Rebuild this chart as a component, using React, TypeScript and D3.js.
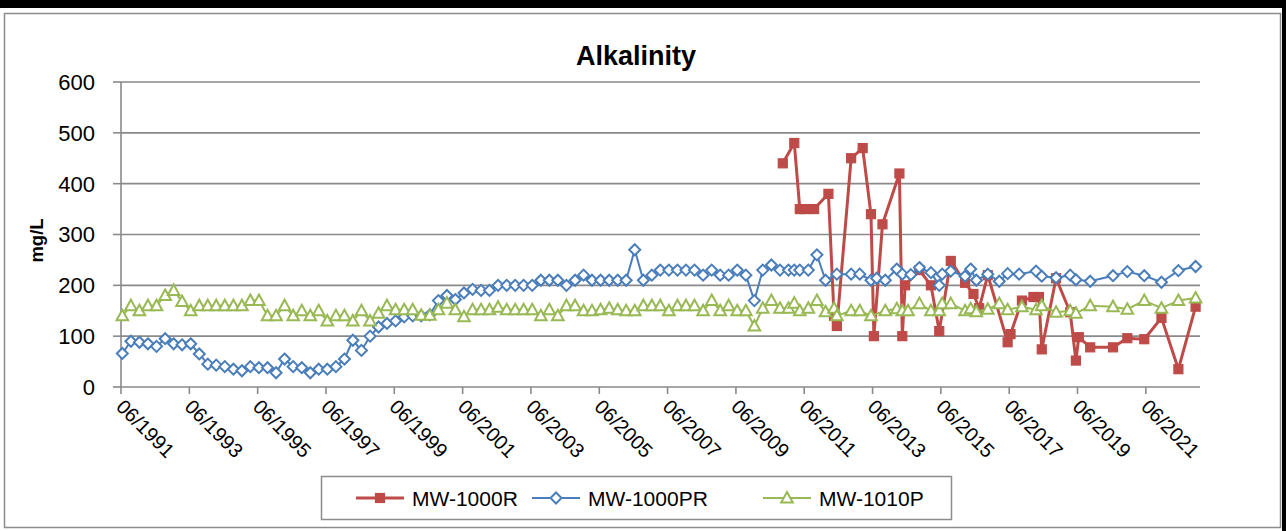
import React, { useLayoutEffect } from "react";
import * as d3 from "d3";

// Quarterly sampling dates shared by MW-1000PR and MW-1010P (1991–2010)
const quarterDates = [
  "1991-06", "1991-09", "1991-12",
  "1992-03", "1992-06", "1992-09", "1992-12",
  "1993-03", "1993-06", "1993-09", "1993-12",
  "1994-03", "1994-06", "1994-09", "1994-12",
  "1995-03", "1995-06", "1995-09", "1995-12",
  "1996-03", "1996-06", "1996-09", "1996-12",
  "1997-03", "1997-06", "1997-09", "1997-12",
  "1998-03", "1998-06", "1998-09", "1998-12",
  "1999-03", "1999-06", "1999-09", "1999-12",
  "2000-03", "2000-06", "2000-09", "2000-12",
  "2001-03", "2001-06", "2001-09", "2001-12",
  "2002-03", "2002-06", "2002-09", "2002-12",
  "2003-03", "2003-06", "2003-09", "2003-12",
  "2004-03", "2004-06", "2004-09", "2004-12",
  "2005-03", "2005-06", "2005-09", "2005-12",
  "2006-03", "2006-06", "2006-09", "2006-12",
  "2007-03", "2007-06", "2007-09", "2007-12",
  "2008-03", "2008-06", "2008-09", "2008-12",
  "2009-03", "2009-06", "2009-09", "2009-12",
  "2010-03", "2010-06", "2010-09", "2010-12",
];

const mw1000prQuarterly = [
  66, 90, 88, 85, 80, 95, 85, 83, 85, 65,
  45, 43, 40, 35, 32, 40, 38, 38, 28, 55,
  40, 38, 28, 35, 35, 40, 55, 92, 72, 100,
  118, 125, 130, 138, 140, 140, 142, 170, 180, 172,
  185, 192, 190, 190, 200, 200, 200, 200, 200, 210,
  210, 210, 200, 210, 220, 210, 210, 210, 210, 210,
  270, 210, 220, 230, 230, 230, 230, 230, 220, 230,
  220, 220, 230, 220, 170, 230, 240, 230, 230,
];

const mw1010pQuarterly = [
  140, 160, 150, 160, 160, 180, 190, 168, 150, 160,
  160, 160, 160, 160, 160, 170, 170, 140, 140, 160,
  140, 150, 140, 150, 130, 140, 140, 130, 150, 130,
  145, 160, 152, 152, 152, 141, 141, 152, 165, 152,
  138, 152, 152, 152, 157, 152, 152, 152, 152, 140,
  152, 140, 160, 160, 150, 150, 152, 155, 152, 150,
  150, 160, 160, 160, 150, 160, 160, 160, 150, 170,
  150, 160, 150, 150, 120, 155, 170, 155, 155,
];

// Sampling from 2011 onward
const mw1000prLateDates = [
  "2011-02", "2011-04", "2011-07", "2011-10", "2012-01", "2012-05", "2012-10",
  "2013-01", "2013-05", "2013-07", "2013-10", "2014-02", "2014-04", "2014-07",
  "2014-10", "2015-02", "2015-05", "2015-06", "2015-09", "2016-02", "2016-04",
  "2016-06", "2016-10", "2017-02", "2017-05", "2017-09", "2018-03", "2018-05",
  "2018-10", "2019-03", "2019-05", "2019-10", "2020-06", "2020-11", "2021-05",
  "2021-11", "2022-05", "2022-11",
];
const mw1000prLate = [
  230, 230, 230, 260, 210, 222, 222,
  222, 210, 214, 210, 232, 222, 221,
  235, 225, 200, 222, 228, 218, 232,
  210, 222, 208, 223, 222, 228, 218,
  215, 220, 211, 208, 219, 227, 219,
  206, 229, 237,
];

const mw1010pLateDates = [
  "2011-02", "2011-04", "2011-07", "2011-10", "2012-01", "2012-04", "2012-05",
  "2012-10", "2013-01", "2013-05", "2013-10", "2014-02", "2014-04", "2014-06",
  "2014-10", "2015-02", "2015-05", "2015-06", "2015-09", "2016-02", "2016-04",
  "2016-06", "2016-10", "2017-02", "2017-05", "2017-10", "2018-03", "2018-05",
  "2018-10", "2019-03", "2019-05", "2019-10", "2020-06", "2020-11", "2021-05",
  "2021-11", "2022-05", "2022-11",
];
const mw1010pLate = [
  165, 150, 155, 170, 148, 155, 140,
  150, 150, 140, 150, 154, 150, 150,
  164, 150, 150, 164, 164, 150, 154,
  148, 153, 164, 152, 158, 152, 160,
  147, 150, 145, 160, 158, 153, 170,
  155, 170, 175,
];

const mw1000rDates = [
  "2010-10", "2011-02", "2011-04", "2011-06", "2011-09", "2012-02", "2012-04",
  "2012-05", "2012-10", "2013-02", "2013-05", "2013-06", "2013-09", "2014-03",
  "2014-04", "2014-05", "2014-10", "2015-02", "2015-05", "2015-09", "2016-02",
  "2016-05", "2016-07", "2016-10", "2017-05", "2017-06", "2017-10", "2018-02",
  "2018-04", "2018-05", "2018-10", "2019-03", "2019-05", "2019-06", "2019-10",
  "2020-06", "2020-11", "2021-05", "2021-11", "2022-05", "2022-11",
];
const mw1000r = [
  440, 480, 350, 350, 350, 380, 140,
  120, 450, 470, 340, 100, 320, 420,
  100, 200, 230, 200, 110, 248, 205,
  183, 155, 220, 88, 104, 170, 177,
  177, 74, 214, 147, 52, 98, 78,
  78, 96, 94, 136, 35, 158,
];

const yTicks = [0, 100, 200, 300, 400, 500, 600];
const xTickDates = [
  "1991-06", "1993-06", "1995-06", "1997-06", "1999-06", "2001-06", "2003-06", "2005-06",
  "2007-06", "2009-06", "2011-06", "2013-06", "2015-06", "2017-06", "2019-06", "2021-06",
];
const legendNames = ["MW-1000R", "MW-1000PR", "MW-1010P"];

const W = 1286;
const H = 531;
const FONT = "'Liberation Sans', Arial, sans-serif";
const RED = "#BE4B48";
const BLUE = "#4A7EBB";
const GREEN = "#98B954";
const GRID = "#8A8A8A";

const parseMonth = d3.timeParse("%Y-%m");
// samples are plotted at mid-month
const sampleDate = (s: string) => d3.timeDay.offset(parseMonth(s) as Date, 14);

type Pt = { date: Date; value: number };

const zip = (dates: string[], vals: number[]): Pt[] =>
  dates.map((d, i) => ({ date: sampleDate(d), value: vals[i] }));

const redData = zip(mw1000rDates, mw1000r);
const blueData = [...zip(quarterDates, mw1000prQuarterly), ...zip(mw1000prLateDates, mw1000prLate)];
const greenData = [...zip(quarterDates, mw1010pQuarterly), ...zip(mw1010pLateDates, mw1010pLate)];

const plot = { left: 121, right: 1200, top: 82, bottom: 387 };

const x = d3
  .scaleTime()
  .domain([parseMonth("1991-06") as Date, new Date(2023, 0, 1)])
  .range([plot.left, plot.right]);
const y = d3.scaleLinear().domain([0, 600]).range([plot.bottom, plot.top]);

const line = d3
  .line<Pt>()
  .x((d) => x(d.date))
  .y((d) => y(d.value));

const fmt = d3.timeFormat("%m/%Y");

function Square({ cx, cy }: { cx: number; cy: number }) {
  return <rect x={cx - 4.5} y={cy - 4.5} width={9} height={9} fill={RED} stroke={RED} strokeWidth={1.2} />;
}
function Diamond({ cx, cy }: { cx: number; cy: number }) {
  const r = 5.5;
  return (
    <path
      d={`M${cx},${cy - r}L${cx + r},${cy}L${cx},${cy + r}L${cx - r},${cy}Z`}
      fill="#fff"
      stroke={BLUE}
      strokeWidth={2}
    />
  );
}
function Triangle({ cx, cy }: { cx: number; cy: number }) {
  return (
    <path
      d={`M${cx},${cy - 6}L${cx + 5.8},${cy + 4.5}L${cx - 5.8},${cy + 4.5}Z`}
      fill="#fff"
      stroke={GREEN}
      strokeWidth={2}
      strokeLinejoin="miter"
    />
  );
}

export default function App() {
  useLayoutEffect(() => {
    document.body.style.margin = "0";
  }, []);

  const legendY = 498;
  const legendItems = [
    { name: legendNames[0], color: RED, x: 356, Marker: Square, width: 3 },
    { name: legendNames[1], color: BLUE, x: 532, Marker: Diamond, width: 2 },
    { name: legendNames[2], color: GREEN, x: 763, Marker: Triangle, width: 2 },
  ];

  return (
    <svg width={W} height={H} style={{ display: "block", background: "#fff" }} fontFamily={FONT}>
      {/* page frame */}
      <rect x={0} y={0} width={W} height={8} fill="#000" />
      <rect x={W - 4} y={0} width={4} height={H} fill="#000" />
      <rect x={4.5} y={13.5} width={1276} height={514} fill="none" stroke="#8C8C8C" strokeWidth={1.5} />

      <text x={636} y={65} textAnchor="middle" fontSize={27} fontWeight="bold" fill="#000">
        Alkalinity
      </text>

      {/* gridlines */}
      {yTicks.map((t) => (
        <line key={t} x1={plot.left} x2={plot.right} y1={y(t)} y2={y(t)} stroke={GRID} strokeWidth={1.6} />
      ))}

      {/* y axis */}
      <line x1={plot.left} x2={plot.left} y1={plot.top} y2={plot.bottom} stroke={GRID} strokeWidth={1.6} />
      {yTicks.map((t) => (
        <g key={t}>
          <line x1={plot.left - 8} x2={plot.left} y1={y(t)} y2={y(t)} stroke={GRID} strokeWidth={1.6} />
          <text x={95} y={y(t)} dy="0.36em" textAnchor="end" fontSize={22} fill="#000">
            {t}
          </text>
        </g>
      ))}
      <text
        transform={`translate(43,${(plot.top + plot.bottom) / 2 + 6}) rotate(-90)`}
        textAnchor="middle"
        fontSize={18.5}
        fontWeight="bold"
        fill="#000"
      >
        mg/L
      </text>

      {/* x axis */}
      {xTickDates.map((s) => {
        const d = parseMonth(s) as Date;
        const px = x(d);
        return (
          <g key={s}>
            <line x1={px} x2={px} y1={plot.bottom} y2={plot.bottom + 7} stroke={GRID} strokeWidth={1.6} />
            <text
              transform={`translate(${px - 1},${plot.bottom + 16}) rotate(45)`}
              dy="0.35em"
              textAnchor="start"
              fontSize={20}
              fill="#000"
            >
              {fmt(d)}
            </text>
          </g>
        );
      })}

      {/* series */}
      <path d={line(redData) ?? ""} fill="none" stroke={RED} strokeWidth={3} strokeLinejoin="round" />
      {redData.map((d, i) => (
        <Square key={i} cx={x(d.date)} cy={y(d.value)} />
      ))}
      <path d={line(blueData) ?? ""} fill="none" stroke={BLUE} strokeWidth={2} strokeLinejoin="round" />
      {blueData.map((d, i) => (
        <Diamond key={i} cx={x(d.date)} cy={y(d.value)} />
      ))}
      <path d={line(greenData) ?? ""} fill="none" stroke={GREEN} strokeWidth={2} strokeLinejoin="round" />
      {greenData.map((d, i) => (
        <Triangle key={i} cx={x(d.date)} cy={y(d.value)} />
      ))}

      {/* legend */}
      <rect x={321.5} y={476.5} width={630} height={43} fill="#fff" stroke="#8C8C8C" strokeWidth={1.5} />
      {legendItems.map((it) => (
        <g key={it.name}>
          <line x1={it.x} x2={it.x + 48} y1={legendY} y2={legendY} stroke={it.color} strokeWidth={it.width} />
          <it.Marker cx={it.x + 24} cy={legendY} />
          <text x={it.x + 56} y={legendY} dy="0.36em" fontSize={21} fill="#000">
            {it.name}
          </text>
        </g>
      ))}
    </svg>
  );
}
